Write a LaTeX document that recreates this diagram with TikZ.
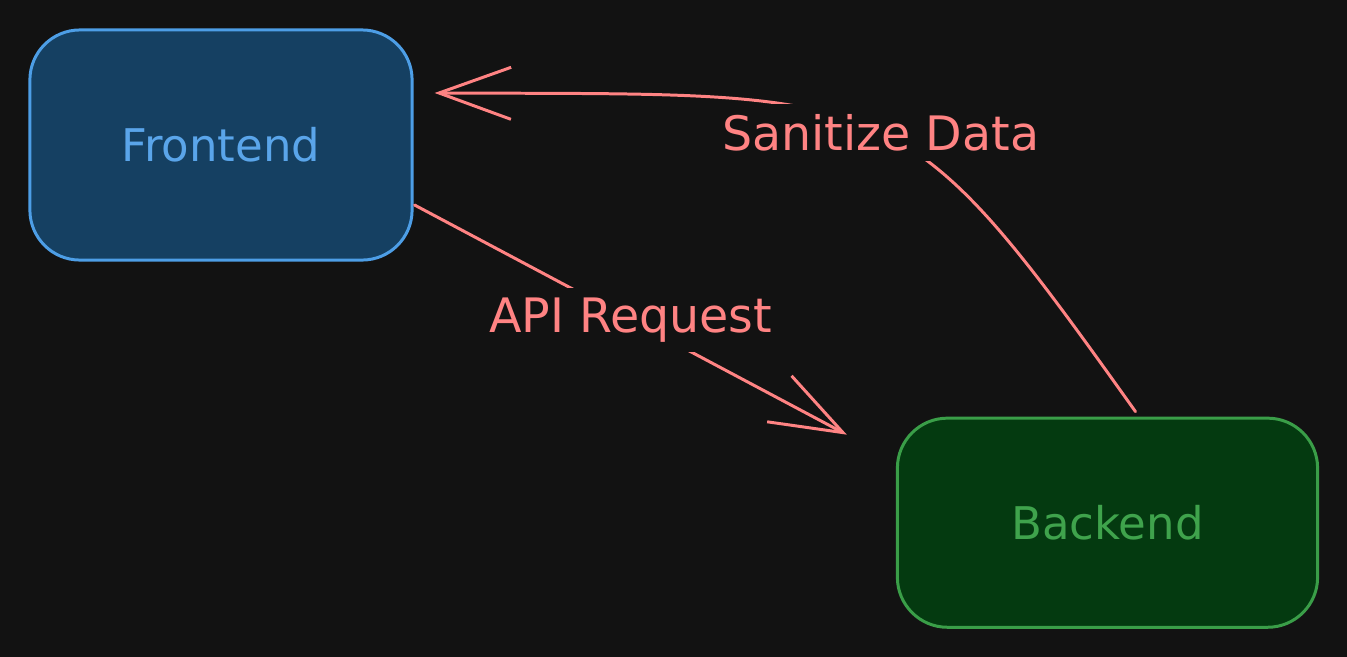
\documentclass[tikz,border=0pt]{standalone}
\usepackage{fontspec}
\setmainfont{DejaVu Sans}
\usepackage{tikz}
\usepackage{xcolor}
\usetikzlibrary{arrows.meta,positioning}

\definecolor{bgdark}{HTML}{121212}
\definecolor{frontfill}{HTML}{154062}
\definecolor{frontline}{HTML}{4D9EE6}
\definecolor{fronttext}{HTML}{5AA5EA}
\definecolor{backfill}{HTML}{043A10}
\definecolor{backline}{HTML}{3A9E48}
\definecolor{backtext}{HTML}{3FA34C}
\definecolor{arrowred}{HTML}{FF8383}

\begin{document}
\begin{tikzpicture}[x=0.01cm,y=-0.01cm,
  block/.style={rectangle, rounded corners=0.5cm, line width=0.85pt, minimum width=3.82cm, minimum height=2.3cm, font=\fontsize{12.8}{15}\selectfont},
  flow/.style={draw=arrowred, line width=0.85pt, line cap=round, -{Straight Barb[length=0.72cm,width=0.52cm]}},
  lbl/.style={fill=bgdark, text=arrowred, inner sep=0.1cm, font=\fontsize{13.5}{16}\selectfont}]
  \fill[bgdark] (0,0) rectangle (1347,657);
  \useasboundingbox (0,0) rectangle (1347,657);
  \node (front) [block, draw=frontline, fill=frontfill, text=fronttext] at (221,145) {Frontend};
  \node (back) [block, draw=backline, fill=backfill, text=backtext, minimum width=4.2cm, minimum height=2.09cm, below right=1.55cm and 4.82cm of front] {Backend};
  \draw[flow] ([shift={(0.01cm,-0.6cm)}]front.east) -- node[lbl] {API Request} ([shift={(-0.49cm,-0.18cm)}]back.north west);
  \draw[flow] ([shift={(0.28cm,0.05cm)}]back.north) .. controls (898,78) and (900,95) .. node[lbl,pos=0.48] {Sanitize Data} ([shift={(0.21cm,0.52cm)}]front.east);
\end{tikzpicture}
\end{document}
